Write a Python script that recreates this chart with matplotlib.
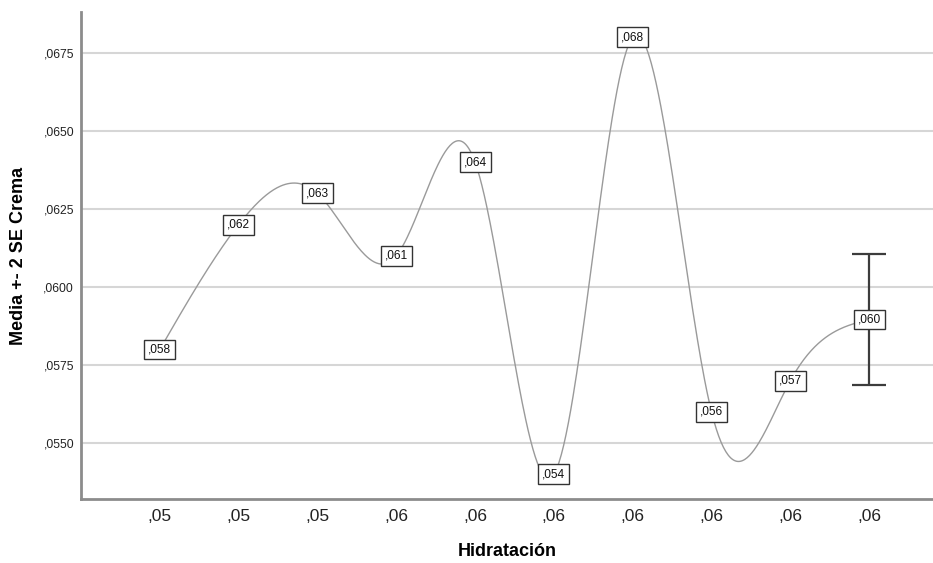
import numpy as np
import matplotlib.pyplot as plt

# ---- data ----
x_labels = [',05', ',05', ',05', ',06', ',06', ',06', ',06', ',06', ',06', ',06']
means = [0.0580, 0.0620, 0.0630, 0.0610, 0.0640, 0.0540, 0.0680, 0.0560, 0.0570, 0.05896]
point_labels = [',058', ',062', ',063', ',061', ',064', ',054', ',068', ',056', ',057', ',060']
err_low = 0.05686
err_high = 0.06106
y_ticks = [0.0550, 0.0575, 0.0600, 0.0625, 0.0650, 0.0675]


def natural_spline(x, y, n=600):
    # natural cubic spline through the points, no scipy needed
    x = np.asarray(x, float)
    y = np.asarray(y, float)
    k = len(x)
    h = np.diff(x)
    A = np.zeros((k, k))
    b = np.zeros(k)
    A[0, 0] = A[-1, -1] = 1
    for i in range(1, k - 1):
        A[i, i - 1] = h[i - 1]
        A[i, i] = 2 * (h[i - 1] + h[i])
        A[i, i + 1] = h[i]
        b[i] = 3 * ((y[i + 1] - y[i]) / h[i] - (y[i] - y[i - 1]) / h[i - 1])
    c = np.linalg.solve(A, b)
    xs = np.linspace(x[0], x[-1], n)
    idx = np.clip(np.searchsorted(x, xs) - 1, 0, k - 2)
    dx = xs - x[idx]
    bb = (y[idx + 1] - y[idx]) / h[idx] - h[idx] * (2 * c[idx] + c[idx + 1]) / 3
    dd = (c[idx + 1] - c[idx]) / (3 * h[idx])
    ys = y[idx] + bb * dx + c[idx] * dx ** 2 + dd * dx ** 3
    return xs, ys


plt.rcParams['font.family'] = ['Liberation Sans', 'DejaVu Sans']

fig = plt.figure(figsize=(9.33, 5.63), dpi=100)
ax = fig.add_axes([81 / 933, 64 / 563, 1 - 81 / 933, (499 - 12) / 563])

pos = np.arange(1, len(means) + 1)

# ---- curve ----
xs, ys = natural_spline(pos, means)
ax.plot(xs, ys, color='#9a9a9a', lw=1.0, zorder=2)

# ---- error bar on last point ----
ax.errorbar(pos[-1], means[-1],
            yerr=[[means[-1] - err_low], [err_high - means[-1]]],
            fmt='none', ecolor='#3c3c3c', elinewidth=1.6, capsize=12, capthick=1.6, zorder=3)

# ---- value labels ----
for p, m, lab in zip(pos, means, point_labels):
    ax.text(p, m, lab, ha='center', va='center', fontsize=8.6, color='#111111', zorder=4,
            bbox=dict(boxstyle='square,pad=0.33', fc='white', ec='#333333', lw=1.0))

# ---- axes formatting ----
ax.set_xlim(0, 10.81)
ax.set_ylim(0.05321, 0.06881)
ax.set_xticks(pos)
ax.set_xticklabels(x_labels, fontsize=12.5, color='#222222')
ax.set_yticks(y_ticks)
ax.set_yticklabels([f"{v:.4f}".lstrip('0').replace('.', ',') for v in y_ticks],
                   fontsize=8.7, color='#222222')
ax.tick_params(axis='both', length=0)
ax.tick_params(axis='x', pad=7)
ax.tick_params(axis='y', pad=5)

ax.grid(axis='y', color='#d6d6d6', lw=1.5, zorder=0)
ax.set_axisbelow(True)
for s in ['top', 'right']:
    ax.spines[s].set_visible(False)
for s in ['left', 'bottom']:
    ax.spines[s].set_color('#8c8c8c')
    ax.spines[s].set_linewidth(2)

ax.set_xlabel('Hidratación', fontsize=13, fontweight='bold', labelpad=14)
ax.set_ylabel('Media +- 2 SE Crema', fontsize=13, fontweight='bold', labelpad=12)

fig.savefig('out.png', dpi=100)
plt.close()
